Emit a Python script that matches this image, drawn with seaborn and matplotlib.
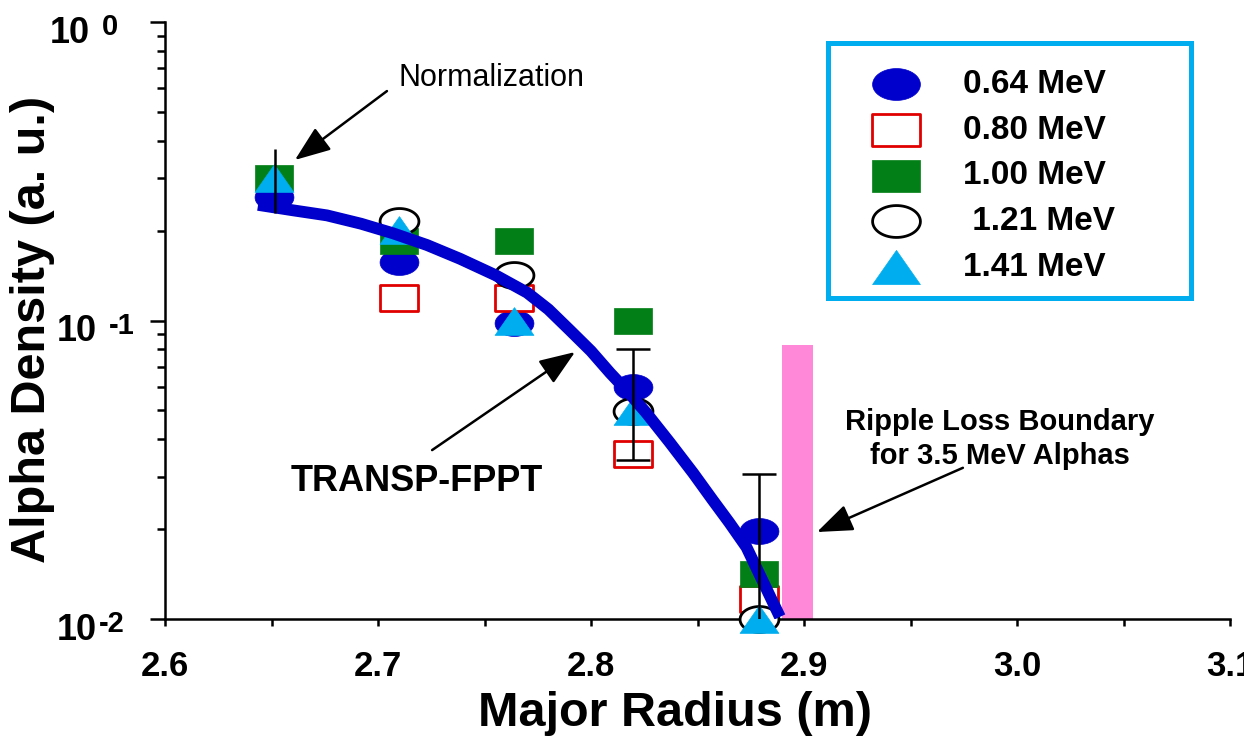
import numpy as np
import matplotlib
matplotlib.use("Agg")
import matplotlib.pyplot as plt
from matplotlib.path import Path
from matplotlib.patches import Rectangle
from matplotlib.ticker import FixedLocator, MultipleLocator, FormatStrFormatter, LogLocator, NullFormatter
import seaborn as sns

# ---------------- data ----------------
radius = [2.6510, 2.7099, 2.7638, 2.8197, 2.8789]
dens_064 = [0.259, 0.157, 0.098, 0.060, 0.0197]
dens_080 = [np.nan, 0.119, 0.119, 0.0357, 0.0117]
dens_100 = [0.300, 0.185, 0.185, 0.100, 0.01415]
dens_121 = [np.nan, 0.215, 0.142, 0.0496, 0.0100]
dens_141 = [0.301, 0.201, 0.0995, 0.0497, 0.0100]

series_labels = ["0.64 MeV", "0.80 MeV", "1.00 MeV", " 1.21 MeV", "1.41 MeV"]

# error bars (first without caps)
err_r_nocap = [2.6516]
err_lo_nocap = [0.229]
err_hi_nocap = [0.376]
err_r_cap = [2.8197, 2.8789]
err_lo_cap = [0.0340, 0.0093]
err_hi_cap = [0.0802, 0.0306]

# TRANSP-FPPT curve
curve_r = [2.6437, 2.660, 2.676, 2.692, 2.707, 2.723, 2.7385, 2.755, 2.770, 2.780,
           2.790, 2.800, 2.809, 2.818, 2.826, 2.837, 2.848, 2.857, 2.865, 2.873, 2.8887]
curve_d = [0.244, 0.234, 0.225, 0.211, 0.196, 0.179, 0.161, 0.142, 0.124, 0.109,
           0.0929, 0.0790, 0.0667, 0.0570, 0.0490, 0.0390, 0.0308, 0.0251, 0.0210, 0.0174, 0.01016]

# ripple loss boundary bar
ripple_left, ripple_right = 2.8897, 2.9042
ripple_bottom, ripple_top = 0.01, 0.0828

xticks = [2.6, 2.7, 2.8, 2.9, 3.0, 3.1]
ytick_vals = [1.0, 0.1, 0.01]
ytick_exps = ["0", "-1", "-2"]

# ---------------- style ----------------
sns.set_style("ticks")
plt.rcParams["font.family"] = ["Liberation Sans", "DejaVu Sans"]
plt.rcParams["font.weight"] = "bold"
for k in ["text.color", "axes.labelcolor", "xtick.color", "ytick.color", "axes.edgecolor"]:
    plt.rcParams[k] = "black"

W, H = 1244, 736
fig = plt.figure(figsize=(W / 100, H / 100), dpi=100)
ax_l, ax_r, ax_t, ax_b = 165, 1230, 22, 619
ax = fig.add_axes([ax_l / W, 1 - ax_b / H, (ax_r - ax_l) / W, (ax_b - ax_t) / H])
ax.set_yscale("log")
ax.set_xlim(2.6, 3.1)
ax.set_ylim(0.01, 1.0)

# marker paths
t = np.linspace(0, 2 * np.pi, 60)
ellipse = Path(np.column_stack([0.75 * np.cos(t), 0.5 * np.sin(t)]), closed=True)
rect = Path([(-0.75, -0.5), (0.75, -0.5), (0.75, 0.5), (-0.75, 0.5), (-0.75, -0.5)], closed=True)
tri = Path([(-0.7, -0.5), (0.7, -0.5), (0.0, 0.5), (-0.7, -0.5)], closed=True)

msz = 28 ** 2
blue = "#0000cc"
red = "#e00000"
green = "#027f17"
cyan = "#00aeef"
pink = "#ff88d8"

specs = [
    (dens_064, ellipse, blue, blue, 0.5, 3.0),
    (dens_080, rect, "white", red, 2.0, 3.1),
    (dens_100, rect, green, green, 0.5, 3.2),
    (dens_121, ellipse, "white", "black", 2.0, 3.3),
    (dens_141, tri, cyan, cyan, 0.5, 3.4),
]
for (vals, mk, fc, ec, lw, z), lab in zip(specs, series_labels):
    sns.scatterplot(x=radius, y=vals, marker=mk, s=msz, color=fc, edgecolor=ec,
                    linewidth=lw, zorder=z, clip_on=False, label=lab, ax=ax)

sns.lineplot(x=curve_r, y=curve_d, color=blue, linewidth=8.5, sort=False,
             estimator=None, zorder=4, ax=ax, solid_capstyle="butt")

ax.fill_between([ripple_left, ripple_right], ripple_bottom, ripple_top,
                color=pink, linewidth=0, zorder=2)

# error bars
lo = np.array(err_lo_nocap); hi = np.array(err_hi_nocap)
c = np.sqrt(lo * hi)
ax.errorbar(err_r_nocap, c, yerr=[c - lo, hi - c], fmt="none", ecolor="black",
            elinewidth=1.8, capsize=0, zorder=5)
lo = np.array(err_lo_cap); hi = np.array(err_hi_cap)
c = np.sqrt(lo * hi)
ax.errorbar(err_r_cap, c, yerr=[c - lo, hi - c], fmt="none", ecolor="black",
            elinewidth=1.8, capsize=12, capthick=1.8, zorder=5)

# axes styling
for s in ["top", "right"]:
    ax.spines[s].set_visible(False)
for s in ["left", "bottom"]:
    ax.spines[s].set_linewidth(1.8)
    ax.spines[s].set_color("black")
ax.xaxis.set_major_locator(FixedLocator(xticks))
ax.xaxis.set_minor_locator(MultipleLocator(0.05))
ax.xaxis.set_major_formatter(FormatStrFormatter("%.1f"))
ax.yaxis.set_major_locator(FixedLocator(ytick_vals))
ax.yaxis.set_minor_locator(LogLocator(base=10, subs=np.arange(2, 10)))
ax.yaxis.set_minor_formatter(NullFormatter())
ax.tick_params(axis="x", which="major", length=5, width=1.8, direction="out",
               labelsize=25, pad=17, colors="black")
ax.tick_params(axis="x", which="minor", length=5, width=1.8, direction="out")
ax.tick_params(axis="y", which="major", length=11, width=1.8, direction="out", labelleft=False)
ax.tick_params(axis="y", which="minor", length=5.5, width=1.8, direction="out")
for lab in ax.get_xticklabels():
    lab.set_fontweight("bold")

# y tick labels 10^n
base_right = [90, 97, 97]
exp_left = [102, 109, 99]
ytrans = ax.get_yaxis_transform()
for v, e, br, el in zip(ytick_vals, ytick_exps, base_right, exp_left):
    ax.annotate("10", xy=(0, v), xycoords=ytrans, xytext=((br - ax_l) * 0.72, -15),
                textcoords="offset points", ha="right", va="baseline",
                fontsize=26, fontweight="bold", annotation_clip=False)
    ax.annotate(e, xy=(0, v), xycoords=ytrans, xytext=((el - ax_l) * 0.72, -9.4),
                textcoords="offset points", ha="left", va="baseline",
                fontsize=21, fontweight="bold", annotation_clip=False)

ax.set_xlabel("Major Radius (m)", fontsize=35, fontweight="bold")
ax.xaxis.set_label_coords((675 - ax_l) / (ax_r - ax_l), (ax_b - 691) / (ax_b - ax_t))
ax.set_ylabel("Alpha Density (a. u.)", fontsize=35, fontweight="bold")
ax.yaxis.set_label_coords((55 - ax_l) / (ax_r - ax_l), (ax_b - 329) / (ax_b - ax_t))

# annotations
arrow = dict(arrowstyle="-|>,head_length=1.1,head_width=0.42", color="black",
             lw=1.8, mutation_scale=20, shrinkA=0, shrinkB=0)
ax.annotate("", xy=(2.661, 0.345), xytext=(2.7042, 0.587), arrowprops=arrow)
ax.text(2.7535, 0.649, "Normalization", fontsize=22, fontweight="normal",
        ha="center", va="center")
ax.annotate("", xy=(2.7925, 0.0784), xytext=(2.7254, 0.0368), arrowprops=arrow)
ax.text(2.7183, 0.0288, "TRANSP-FPPT", fontsize=26, fontweight="bold",
        ha="center", va="center")
ax.annotate("", xy=(2.9061, 0.01956), xytext=(2.9746, 0.0321), arrowprops=arrow)
ax.text(2.992, 0.0401, "Ripple Loss Boundary\nfor 3.5 MeV Alphas", fontsize=21,
        fontweight="bold", ha="center", va="center", linespacing=1.3)

# legend
handles, labels = ax.get_legend_handles_labels()
order = [labels.index(l) for l in series_labels]
leg = ax.legend([handles[i] for i in order], [labels[i] for i in order],
                loc="upper left", bbox_to_anchor=(863 / W, 1 - 69 / H),
                bbox_transform=fig.transFigure, frameon=False, borderpad=0,
                borderaxespad=0, handlelength=2.0, handletextpad=1.0,
                labelspacing=0.44, markerscale=1.23, scatterpoints=1,
                prop={"size": 24, "weight": "bold"})
fig.patches.append(Rectangle((828 / W, 1 - 298 / H), (1191 - 828) / W, (298 - 43) / H,
                             transform=fig.transFigure, fill=False,
                             edgecolor=cyan, linewidth=3.6, zorder=10))

fig.savefig("out.png", dpi=100, facecolor="white")
